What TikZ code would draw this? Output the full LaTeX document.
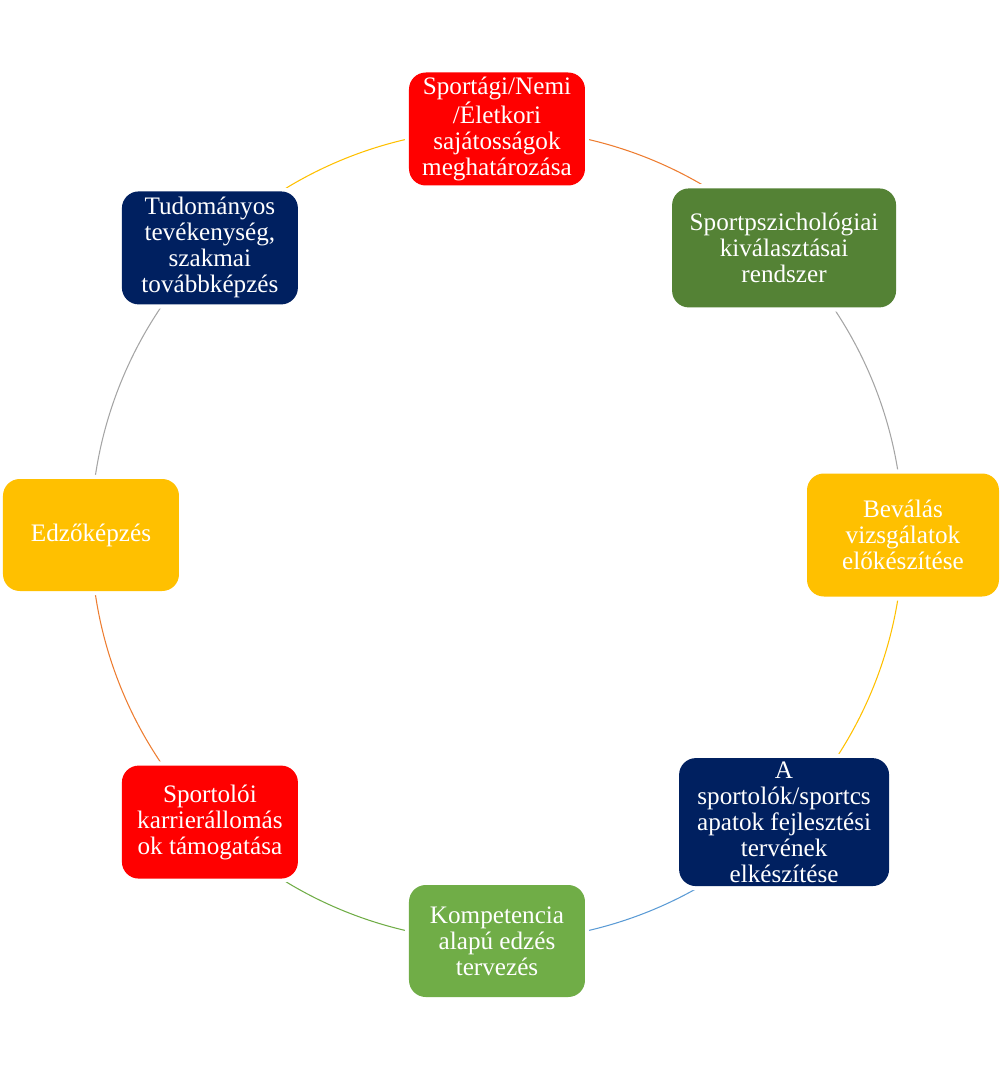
\documentclass[tikz,border=0pt]{standalone}
\usepackage{fontspec}
\setmainfont{Liberation Serif}
\usepackage{tikz}
\usetikzlibrary{backgrounds}
\usepackage{xcolor}
\definecolor{cRed}{HTML}{FF0000}
\definecolor{cDarkGreen}{HTML}{548235}
\definecolor{cYellow}{HTML}{FFC000}
\definecolor{cNavy}{HTML}{002060}
\definecolor{cLightGreen}{HTML}{70AD47}
\definecolor{aOrange}{HTML}{ED7D31}
\definecolor{aGray}{HTML}{A5A5A5}
\definecolor{aBlue}{HTML}{5B9BD5}

\begin{document}
\begin{tikzpicture}
\tikzstyle{stage} =[rectangle, rounded corners=0.42cm, text=white, align=center, inner sep=0pt, font=\fontsize{17.9}{18.5}\selectfont, preaction={draw=white,line width=6pt}]
\tikzstyle{arcline} =[line width=0.75pt]

\useasboundingbox (-12.425,-13.375) rectangle (12.625,13.375);

\node[stage,fill=cRed,minimum width=4.4cm,minimum height=2.825cm](s1) at (90:10.15){Sportági/Nemi\\/Életkori\\sajátosságok\\meghatározása};
\node[stage,fill=cDarkGreen,minimum width=5.6cm,minimum height=2.975cm](s2) at (45:10.15){Sportpszichológiai\\kiválasztásai\\rendszer};
\node[stage,fill=cYellow,minimum width=4.8cm,minimum height=3.075cm](s3) at (0:10.15){Beválás\\vizsgálatok\\előkészítése};
\node[stage,fill=cNavy,minimum width=5.25cm,minimum height=3.2cm](s4) at (-45:10.15){A\\sportolók/sportcs\\apatok fejlesztési\\tervének\\elkészítése};
\node[stage,fill=cLightGreen,minimum width=4.4cm,minimum height=2.8cm](s5) at (-90:10.15){Kompetencia\\alapú edzés\\tervezés};
\node[stage,fill=cRed,minimum width=4.4cm,minimum height=2.825cm](s6) at (-135:10.15){Sportolói\\karrierállomás\\ok támogatása};
\node[stage,fill=cYellow,minimum width=4.4cm,minimum height=2.8cm](s7) at (180:10.15){Edzőképzés};
\node[stage,fill=cNavy,minimum width=4.4cm,minimum height=2.825cm](s8) at (135:10.15){Tudományos\\tevékenység,\\szakmai\\továbbképzés};

\begin{scope}[on background layer]
\draw [arcline,aOrange] (s1.center) to[bend left=22.5,looseness=0.885] (s2.center);
\draw [arcline,aGray] (s2.center) to[bend left=22.5,looseness=0.885] (s3.center);
\draw [arcline,cYellow] (s3.center) to[bend left=22.5,looseness=0.885] (s4.center);
\draw [arcline,aBlue] (s4.center) to[bend left=22.5,looseness=0.885] (s5.center);
\draw [arcline,cLightGreen] (s5.center) to[bend left=22.5,looseness=0.885] (s6.center);
\draw [arcline,aOrange] (s6.center) to[bend left=22.5,looseness=0.885] (s7.center);
\draw [arcline,aGray] (s7.center) to[bend left=22.5,looseness=0.885] (s8.center);
\draw [arcline,cYellow] (s8.center) to[bend left=22.5,looseness=0.885] (s1.center);
\end{scope}
\end{tikzpicture}
\end{document}
